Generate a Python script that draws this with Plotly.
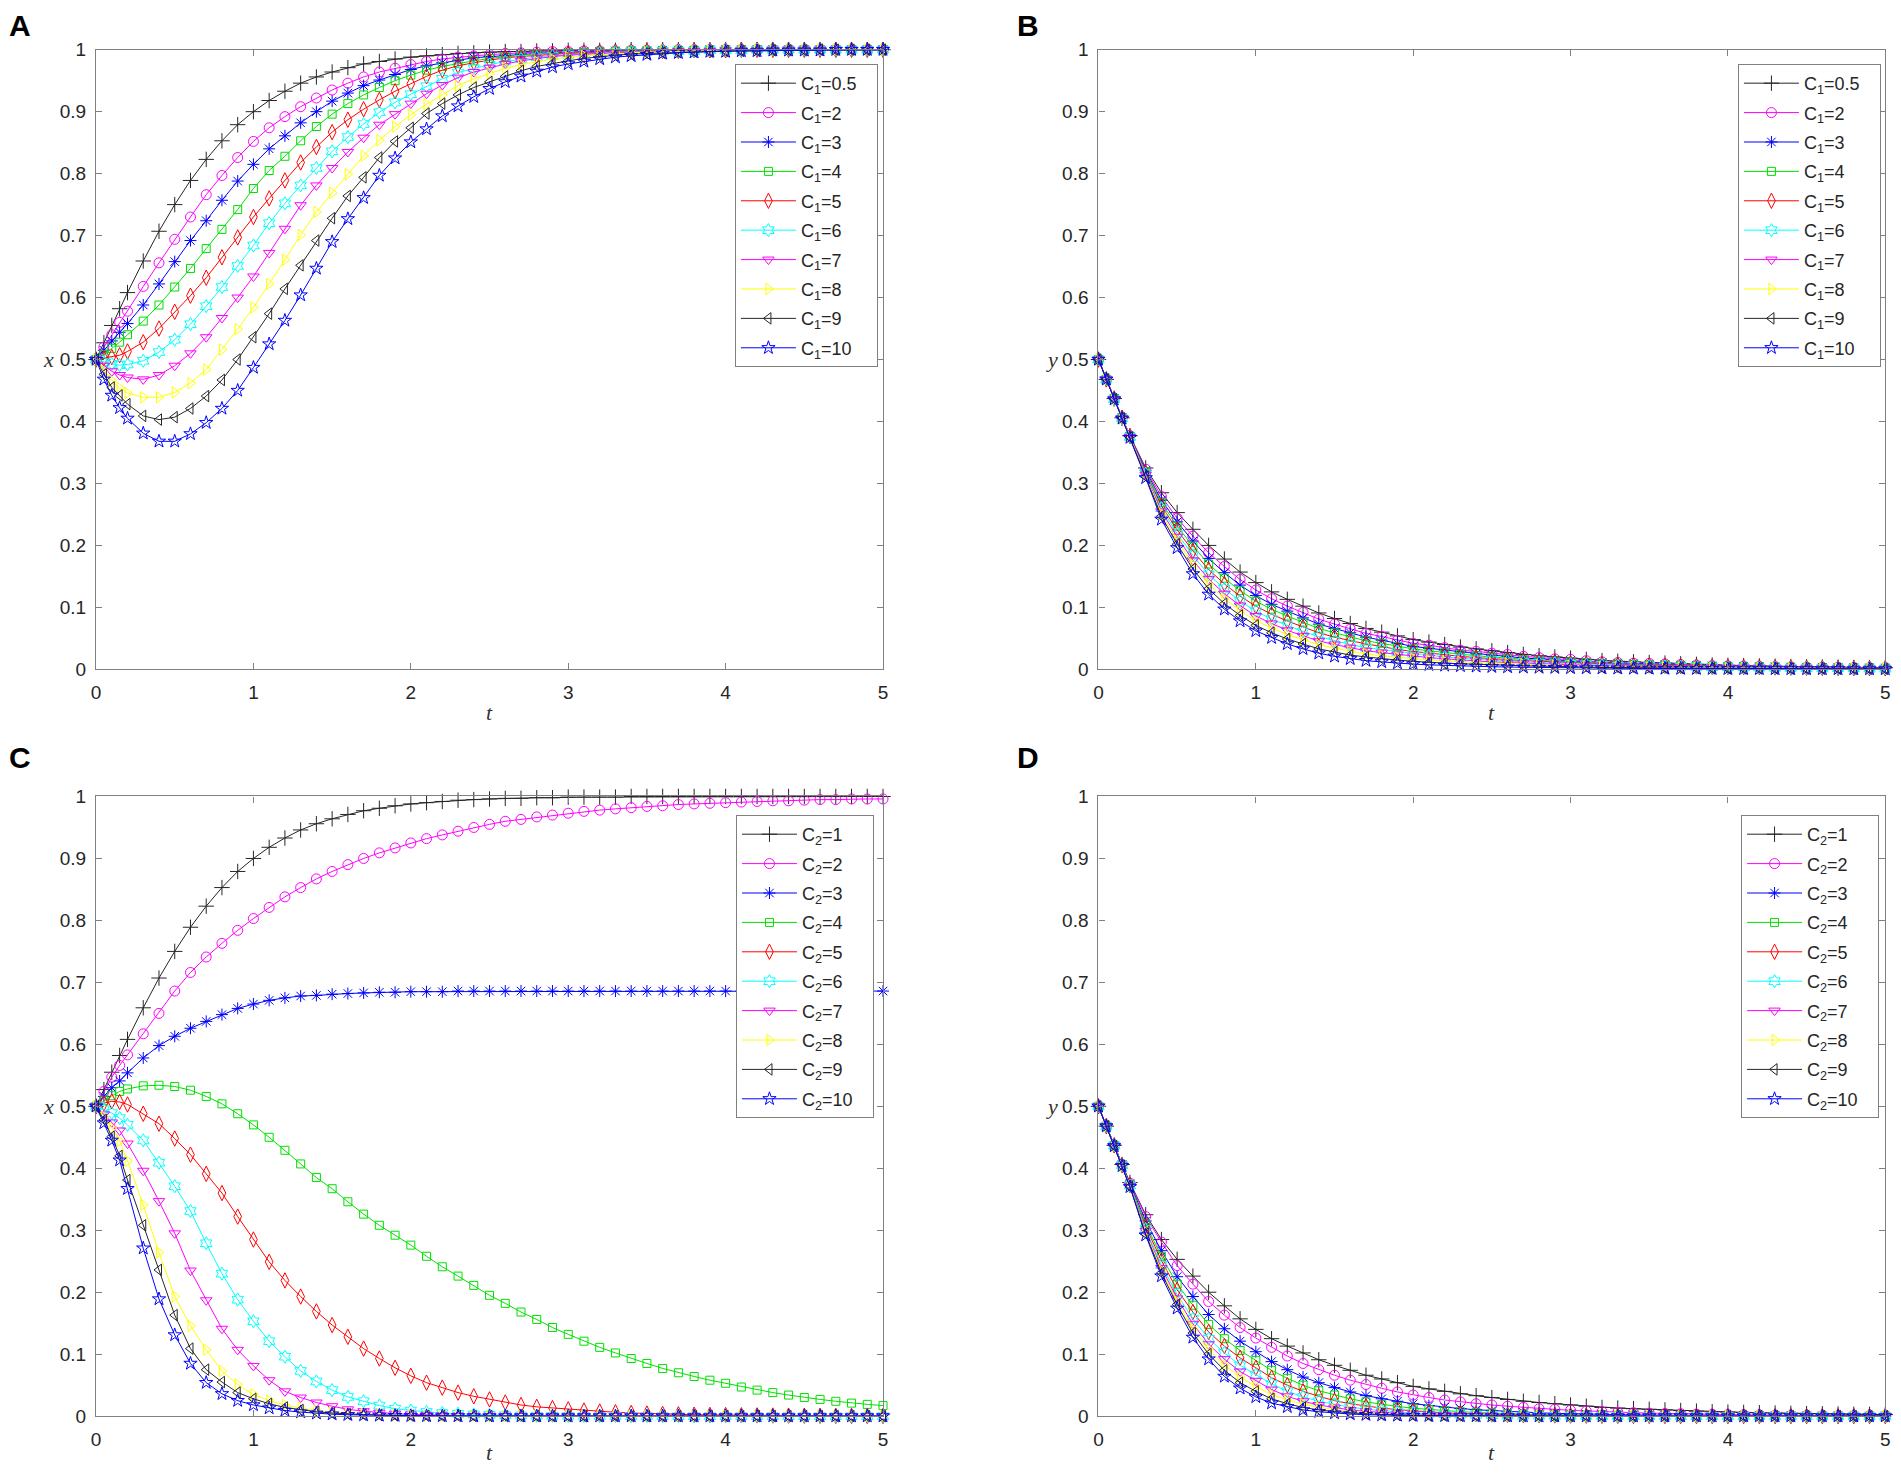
import plotly.graph_objects as go

# time grid shared by all curves (ode steps)
t = [0, 0.05, 0.1, 0.15, 0.2,
     0.3, 0.4, 0.5, 0.6, 0.7, 0.8, 0.9, 1.0,
     1.1, 1.2, 1.3, 1.4, 1.5, 1.6, 1.7, 1.8, 1.9, 2.0,
     2.1, 2.2, 2.3, 2.4, 2.5, 2.6, 2.7, 2.8, 2.9, 3.0,
     3.1, 3.2, 3.3, 3.4, 3.5, 3.6, 3.7, 3.8, 3.9, 4.0,
     4.1, 4.2, 4.3, 4.4, 4.5, 4.6, 4.7, 4.8, 4.9, 5.0]

c1_labels = ["0.5", "2", "3", "4", "5", "6", "7", "8", "9", "10"]
c2_labels = ["1", "2", "3", "4", "5", "6", "7", "8", "9", "10"]

x_ticks = [0, 1, 2, 3, 4, 5]
y_ticks = [0, 0.1, 0.2, 0.3, 0.4, 0.5, 0.6, 0.7, 0.8, 0.9, 1]
y_ticktext = ["0", "0.1", "0.2", "0.3", "0.4", "0.5", "0.6", "0.7", "0.8", "0.9", "1"]

# ---- panel A : x(t) for different C1 ----
xA_c05 = [0.5, 0.527, 0.555, 0.582, 0.608,
          0.659, 0.707, 0.750, 0.789, 0.823, 0.853, 0.879, 0.900,
          0.918, 0.933, 0.946, 0.956, 0.964, 0.971, 0.977, 0.981, 0.985, 0.988,
          0.990, 0.992, 0.994, 0.995, 0.996, 0.997, 0.997, 0.998, 0.998, 0.999,
          0.999, 0.999, 0.999, 1, 1, 1, 1, 1, 1, 1,
          1, 1, 1, 1, 1, 1, 1, 1, 1, 1]
xA_c2 = [0.5, 0.52, 0.54, 0.56, 0.578,
         0.618, 0.656, 0.694, 0.730, 0.766, 0.797, 0.826, 0.852,
         0.874, 0.892, 0.908, 0.922, 0.935, 0.946, 0.956, 0.964, 0.970, 0.976,
         0.981, 0.985, 0.988, 0.990, 0.992, 0.994, 0.995, 0.996, 0.997, 0.997,
         0.998, 0.998, 0.998, 0.999, 0.999, 0.999, 1, 1, 1, 1,
         1, 1, 1, 1, 1, 1, 1, 1, 1, 1]
xA_c3 = [0.5, 0.515, 0.53, 0.544, 0.558,
         0.588, 0.622, 0.658, 0.692, 0.724, 0.757, 0.788, 0.815,
         0.840, 0.861, 0.882, 0.900, 0.917, 0.930, 0.942, 0.951, 0.960, 0.968,
         0.974, 0.979, 0.983, 0.987, 0.989, 0.991, 0.993, 0.994, 0.995, 0.996,
         0.997, 0.997, 0.998, 0.998, 0.998, 0.999, 0.999, 0.999, 1, 1,
         1, 1, 1, 1, 1, 1, 1, 1, 1, 1]
xA_c4 = [0.5, 0.508, 0.518, 0.528, 0.54,
         0.562, 0.588, 0.617, 0.647, 0.679, 0.710, 0.742, 0.776,
         0.805, 0.828, 0.853, 0.876, 0.896, 0.913, 0.927, 0.939, 0.950, 0.959,
         0.967, 0.973, 0.978, 0.982, 0.986, 0.989, 0.991, 0.993, 0.994, 0.995,
         0.996, 0.997, 0.997, 0.998, 0.998, 0.998, 0.999, 0.999, 0.999, 1,
         1, 1, 1, 1, 1, 1, 1, 1, 1, 1]
xA_c5 = [0.5, 0.502, 0.504, 0.507, 0.513,
         0.528, 0.550, 0.577, 0.603, 0.632, 0.665, 0.697, 0.730,
         0.760, 0.789, 0.818, 0.843, 0.867, 0.887, 0.904, 0.919, 0.933, 0.945,
         0.957, 0.967, 0.974, 0.979, 0.983, 0.987, 0.989, 0.991, 0.993, 0.994,
         0.995, 0.996, 0.997, 0.997, 0.998, 0.998, 0.998, 0.999, 0.999, 0.999,
         1, 1, 1, 1, 1, 1, 1, 1, 1, 1]
xA_c6 = [0.5, 0.496, 0.493, 0.491, 0.492,
         0.498, 0.512, 0.532, 0.557, 0.586, 0.617, 0.651, 0.684,
         0.720, 0.752, 0.781, 0.809, 0.836, 0.859, 0.880, 0.899, 0.915, 0.928,
         0.941, 0.953, 0.963, 0.970, 0.976, 0.981, 0.985, 0.988, 0.990, 0.992,
         0.994, 0.995, 0.996, 0.997, 0.997, 0.998, 0.998, 0.998, 0.999, 0.999,
         0.999, 1, 1, 1, 1, 1, 1, 1, 1, 1]
xA_c7 = [0.5, 0.490, 0.481, 0.475, 0.471,
         0.468, 0.475, 0.490, 0.510, 0.536, 0.567, 0.600, 0.634,
         0.672, 0.711, 0.749, 0.781, 0.809, 0.835, 0.858, 0.879, 0.896, 0.913,
         0.929, 0.943, 0.955, 0.964, 0.971, 0.977, 0.982, 0.986, 0.989, 0.991,
         0.993, 0.994, 0.995, 0.996, 0.997, 0.997, 0.998, 0.998, 0.998, 0.999,
         0.999, 0.999, 1, 1, 1, 1, 1, 1, 1, 1]
xA_c8 = [0.5, 0.482, 0.466, 0.454, 0.446,
         0.439, 0.439, 0.447, 0.462, 0.484, 0.516, 0.549, 0.584,
         0.622, 0.661, 0.701, 0.738, 0.769, 0.799, 0.829, 0.854, 0.876, 0.895,
         0.912, 0.927, 0.942, 0.953, 0.962, 0.970, 0.976, 0.981, 0.985, 0.988,
         0.990, 0.992, 0.994, 0.995, 0.996, 0.997, 0.997, 0.998, 0.998, 0.998,
         0.999, 0.999, 0.999, 1, 1, 1, 1, 1, 1, 1]
xA_c9 = [0.5, 0.476, 0.455, 0.442, 0.428,
         0.409, 0.403, 0.407, 0.421, 0.441, 0.467, 0.500, 0.536,
         0.574, 0.614, 0.652, 0.692, 0.728, 0.764, 0.794, 0.826, 0.852, 0.874,
         0.897, 0.913, 0.927, 0.939, 0.948, 0.957, 0.966, 0.973, 0.978, 0.982,
         0.986, 0.989, 0.991, 0.993, 0.994, 0.995, 0.996, 0.997, 0.997, 0.998,
         0.998, 0.998, 0.999, 0.999, 0.999, 1, 1, 1, 1, 1]
xA_c10 = [0.5, 0.468, 0.442, 0.422, 0.405,
          0.381, 0.368, 0.368, 0.380, 0.398, 0.421, 0.450, 0.487,
          0.525, 0.563, 0.604, 0.647, 0.690, 0.727, 0.761, 0.797, 0.825, 0.851,
          0.872, 0.893, 0.909, 0.924, 0.937, 0.948, 0.957, 0.965, 0.972, 0.977,
          0.981, 0.985, 0.988, 0.990, 0.992, 0.994, 0.995, 0.996, 0.997, 0.997,
          0.998, 0.998, 0.999, 0.999, 0.999, 0.999, 1, 1, 1, 1]

# ---- panel B : y(t) for different C1 ----
yB_c05 = [0.5, 0.468, 0.437, 0.406, 0.377,
          0.325, 0.285, 0.253, 0.226, 0.200, 0.178, 0.157, 0.140,
          0.125, 0.113, 0.102, 0.091, 0.082, 0.074, 0.066, 0.060, 0.054, 0.048,
          0.044, 0.040, 0.036, 0.033, 0.030, 0.027, 0.024, 0.022, 0.020, 0.018,
          0.016, 0.014, 0.013, 0.012, 0.011, 0.010, 0.009, 0.008, 0.007, 0.0065,
          0.006, 0.0055, 0.005, 0.0045, 0.004, 0.0037, 0.0034, 0.003, 0.0028, 0.0025]
yB_c2 = [0.5, 0.468, 0.437, 0.406, 0.377,
         0.323, 0.279, 0.244, 0.215, 0.188, 0.166, 0.145, 0.128,
         0.114, 0.102, 0.092, 0.081, 0.073, 0.065, 0.058, 0.053, 0.047, 0.042,
         0.039, 0.035, 0.031, 0.029, 0.026, 0.024, 0.021, 0.019, 0.017, 0.016,
         0.014, 0.012, 0.011, 0.010, 0.0096, 0.0087, 0.0078, 0.007, 0.0061, 0.0057,
         0.0053, 0.0048, 0.0044, 0.004, 0.0036, 0.0033, 0.003, 0.0027, 0.0025, 0.0023]
yB_c3 = [0.5, 0.468, 0.437, 0.406, 0.376,
         0.321, 0.273, 0.238, 0.207, 0.179, 0.156, 0.136, 0.119,
         0.105, 0.094, 0.083, 0.073, 0.066, 0.059, 0.052, 0.047, 0.042, 0.037,
         0.034, 0.031, 0.028, 0.025, 0.023, 0.021, 0.018, 0.017, 0.015, 0.014,
         0.012, 0.011, 0.010, 0.009, 0.0084, 0.0077, 0.0069, 0.0062, 0.0054, 0.005,
         0.0047, 0.0043, 0.0039, 0.0036, 0.0032, 0.003, 0.0027, 0.0025, 0.0023, 0.0021]
yB_c4 = [0.5, 0.468, 0.437, 0.406, 0.376,
         0.319, 0.269, 0.231, 0.199, 0.170, 0.147, 0.127, 0.110,
         0.097, 0.086, 0.076, 0.066, 0.059, 0.052, 0.046, 0.042, 0.037, 0.033,
         0.030, 0.027, 0.024, 0.022, 0.020, 0.018, 0.016, 0.015, 0.013, 0.012,
         0.011, 0.009, 0.009, 0.008, 0.0074, 0.0067, 0.006, 0.0054, 0.0047, 0.0044,
         0.0041, 0.0038, 0.0035, 0.0031, 0.0028, 0.0026, 0.0024, 0.0022, 0.002, 0.0018]
yB_c5 = [0.5, 0.468, 0.437, 0.406, 0.376,
         0.317, 0.264, 0.225, 0.191, 0.161, 0.138, 0.118, 0.102,
         0.089, 0.078, 0.068, 0.059, 0.052, 0.046, 0.041, 0.037, 0.032, 0.029,
         0.026, 0.024, 0.021, 0.019, 0.017, 0.016, 0.014, 0.013, 0.012, 0.010,
         0.009, 0.008, 0.007, 0.007, 0.0063, 0.0057, 0.0052, 0.0046, 0.0041, 0.0038,
         0.0035, 0.0033, 0.003, 0.0027, 0.0025, 0.0023, 0.0021, 0.0019, 0.0018, 0.0016]
yB_c6 = [0.5, 0.468, 0.436, 0.405, 0.375,
         0.316, 0.260, 0.219, 0.184, 0.153, 0.130, 0.110, 0.094,
         0.081, 0.071, 0.061, 0.053, 0.046, 0.040, 0.035, 0.032, 0.028, 0.025,
         0.022, 0.020, 0.018, 0.016, 0.015, 0.013, 0.012, 0.011, 0.010, 0.009,
         0.008, 0.007, 0.006, 0.006, 0.0053, 0.0049, 0.0044, 0.0039, 0.0035, 0.0032,
         0.003, 0.0028, 0.0026, 0.0023, 0.0021, 0.002, 0.0019, 0.0017, 0.0016, 0.0014]
yB_c7 = [0.5, 0.468, 0.436, 0.405, 0.375,
         0.314, 0.255, 0.214, 0.176, 0.146, 0.122, 0.103, 0.086,
         0.074, 0.063, 0.054, 0.046, 0.040, 0.035, 0.030, 0.027, 0.024, 0.021,
         0.019, 0.017, 0.015, 0.014, 0.012, 0.011, 0.010, 0.009, 0.008, 0.007,
         0.006, 0.006, 0.005, 0.005, 0.0044, 0.004, 0.0036, 0.0032, 0.0029, 0.0026,
         0.0025, 0.0023, 0.0021, 0.0019, 0.0018, 0.0017, 0.0016, 0.0014, 0.0013, 0.0012]
yB_c8 = [0.5, 0.468, 0.436, 0.405, 0.375,
         0.312, 0.251, 0.208, 0.169, 0.138, 0.114, 0.095, 0.078,
         0.067, 0.056, 0.048, 0.040, 0.034, 0.029, 0.025, 0.022, 0.019, 0.017,
         0.015, 0.013, 0.012, 0.011, 0.010, 0.009, 0.008, 0.007, 0.006, 0.006,
         0.005, 0.004, 0.004, 0.004, 0.0034, 0.0031, 0.0028, 0.0025, 0.0023, 0.0021,
         0.002, 0.0018, 0.0017, 0.0016, 0.0014, 0.0013, 0.0013, 0.0012, 0.0011, 0.001]
yB_c9 = [0.5, 0.468, 0.436, 0.405, 0.374,
         0.311, 0.247, 0.202, 0.162, 0.130, 0.106, 0.087, 0.071,
         0.059, 0.049, 0.041, 0.033, 0.028, 0.023, 0.020, 0.017, 0.015, 0.013,
         0.011, 0.010, 0.009, 0.008, 0.007, 0.006, 0.006, 0.005, 0.005, 0.004,
         0.004, 0.003, 0.003, 0.003, 0.0025, 0.0023, 0.0021, 0.0019, 0.0017, 0.0015,
         0.0015, 0.0014, 0.0013, 0.0012, 0.0011, 0.001, 0.001, 0.0009, 0.0009, 0.0008]
yB_c10 = [0.5, 0.468, 0.436, 0.405, 0.374,
          0.309, 0.242, 0.196, 0.154, 0.121, 0.097, 0.078, 0.062,
          0.051, 0.041, 0.033, 0.026, 0.021, 0.017, 0.014, 0.012, 0.010, 0.0085,
          0.0073, 0.0063, 0.0055, 0.0048, 0.0042, 0.0037, 0.0033, 0.0029, 0.0026, 0.0023,
          0.0021, 0.0019, 0.0017, 0.0015, 0.0014, 0.0013, 0.0012, 0.0011, 0.001, 0.0009,
          0.0008, 0.0008, 0.0007, 0.0007, 0.0006, 0.0006, 0.0006, 0.0005, 0.0005, 0.0005]

# ---- panel C : x(t) for different C2 ----
xC_c1 = [0.5, 0.527, 0.555, 0.582, 0.608,
         0.659, 0.707, 0.750, 0.789, 0.823, 0.853, 0.879, 0.900,
         0.918, 0.933, 0.946, 0.956, 0.964, 0.971, 0.977, 0.981, 0.985, 0.988,
         0.990, 0.992, 0.994, 0.995, 0.996, 0.997, 0.997, 0.998, 0.998, 0.999,
         0.999, 0.999, 0.999, 1, 1, 1, 1, 1, 1, 1,
         1, 1, 1, 1, 1, 1, 1, 1, 1, 1]
xC_c2 = [0.5, 0.524, 0.547, 0.566, 0.583,
         0.617, 0.650, 0.686, 0.716, 0.741, 0.763, 0.784, 0.803,
         0.821, 0.838, 0.853, 0.867, 0.879, 0.890, 0.900, 0.909, 0.917, 0.925,
         0.932, 0.938, 0.944, 0.950, 0.955, 0.960, 0.963, 0.967, 0.970, 0.973,
         0.976, 0.978, 0.980, 0.982, 0.984, 0.985, 0.987, 0.988, 0.989, 0.990,
         0.991, 0.992, 0.993, 0.993, 0.994, 0.995, 0.995, 0.996, 0.996, 0.996]
xC_c3 = [0.5, 0.516, 0.530, 0.541, 0.554,
         0.578, 0.598, 0.613, 0.626, 0.637, 0.648, 0.658, 0.665,
         0.671, 0.675, 0.678, 0.679, 0.681, 0.682, 0.683, 0.684, 0.684, 0.685,
         0.685, 0.685, 0.686, 0.686, 0.686, 0.686, 0.686, 0.686, 0.686, 0.686,
         0.686, 0.686, 0.686, 0.686, 0.686, 0.686, 0.686, 0.686, 0.686, 0.686,
         0.686, 0.686, 0.686, 0.686, 0.686, 0.686, 0.686, 0.686, 0.686, 0.686]
xC_c4 = [0.5, 0.509, 0.517, 0.524, 0.528,
         0.533, 0.534, 0.532, 0.526, 0.516, 0.504, 0.488, 0.470,
         0.450, 0.429, 0.407, 0.385, 0.367, 0.346, 0.326, 0.308, 0.292, 0.276,
         0.258, 0.241, 0.226, 0.211, 0.195, 0.182, 0.168, 0.156, 0.143, 0.132,
         0.121, 0.111, 0.102, 0.093, 0.085, 0.077, 0.070, 0.064, 0.058, 0.053,
         0.047, 0.042, 0.038, 0.034, 0.030, 0.027, 0.024, 0.021, 0.019, 0.017]
xC_c5 = [0.5, 0.505, 0.508, 0.507, 0.503,
         0.488, 0.472, 0.448, 0.422, 0.391, 0.360, 0.322, 0.285,
         0.249, 0.219, 0.193, 0.169, 0.147, 0.128, 0.109, 0.093, 0.078, 0.065,
         0.054, 0.046, 0.038, 0.032, 0.027, 0.022, 0.018, 0.015, 0.013, 0.011,
         0.009, 0.0075, 0.0062, 0.0051, 0.0042, 0.0035, 0.0029, 0.0024, 0.002, 0.0017,
         0.0014, 0.0012, 0.001, 0.0008, 0.0007, 0.0006, 0.0005, 0.0004, 0.0003, 0.0003]
xC_c6 = [0.5, 0.495, 0.489, 0.481, 0.470,
         0.445, 0.409, 0.371, 0.331, 0.279, 0.230, 0.188, 0.153,
         0.121, 0.096, 0.073, 0.056, 0.042, 0.031, 0.024, 0.017, 0.012, 0.009,
         0.0068, 0.005, 0.0037, 0.0027, 0.002, 0.0015, 0.0011, 0.0008, 0.0006, 0.0004,
         0.0003, 0.0002, 0.0002, 0.0001, 0.0001, 0.0001, 0, 0, 0, 0,
         0, 0, 0, 0, 0, 0, 0, 0, 0, 0]
xC_c7 = [0.5, 0.487, 0.474, 0.461, 0.440,
         0.396, 0.347, 0.295, 0.235, 0.187, 0.141, 0.107, 0.081,
         0.058, 0.040, 0.030, 0.022, 0.016, 0.011, 0.008, 0.0055, 0.004, 0.0028,
         0.002, 0.0014, 0.001, 0.0007, 0.0005, 0.0004, 0.0003, 0.0002, 0.0001, 0.0001,
         0, 0, 0, 0, 0, 0, 0, 0, 0, 0,
         0, 0, 0, 0, 0, 0, 0, 0, 0, 0]
xC_c8 = [0.5, 0.483, 0.465, 0.444, 0.412,
         0.341, 0.264, 0.193, 0.146, 0.107, 0.073, 0.051, 0.035,
         0.025, 0.018, 0.013, 0.009, 0.0065, 0.0046, 0.0033, 0.0023, 0.0016, 0.0011,
         0.0008, 0.0006, 0.0004, 0.0003, 0.0002, 0.0001, 0.0001, 0, 0, 0,
         0, 0, 0, 0, 0, 0, 0, 0, 0, 0,
         0, 0, 0, 0, 0, 0, 0, 0, 0, 0]
xC_c9 = [0.5, 0.478, 0.451, 0.420, 0.381,
         0.308, 0.236, 0.163, 0.109, 0.075, 0.055, 0.038, 0.028,
         0.020, 0.014, 0.010, 0.007, 0.005, 0.0035, 0.0025, 0.0018, 0.0013, 0.0009,
         0.0006, 0.0004, 0.0003, 0.0002, 0.0001, 0.0001, 0, 0, 0, 0,
         0, 0, 0, 0, 0, 0, 0, 0, 0, 0,
         0, 0, 0, 0, 0, 0, 0, 0, 0, 0]
xC_c10 = [0.5, 0.473, 0.445, 0.413, 0.367,
          0.271, 0.189, 0.131, 0.085, 0.054, 0.036, 0.025, 0.018,
          0.013, 0.009, 0.0065, 0.0045, 0.0032, 0.0022, 0.0016, 0.0011, 0.0008, 0.0005,
          0.0004, 0.0003, 0.0002, 0.0001, 0.0001, 0, 0, 0, 0, 0,
          0, 0, 0, 0, 0, 0, 0, 0, 0, 0,
          0, 0, 0, 0, 0, 0, 0, 0, 0, 0]

# ---- panel D : y(t) for different C2 ----
yD_c1 = [0.5, 0.468, 0.437, 0.406, 0.377,
         0.325, 0.285, 0.253, 0.226, 0.200, 0.178, 0.157, 0.140,
         0.125, 0.113, 0.102, 0.091, 0.082, 0.074, 0.066, 0.060, 0.054, 0.048,
         0.044, 0.040, 0.036, 0.033, 0.030, 0.027, 0.024, 0.022, 0.020, 0.018,
         0.016, 0.014, 0.013, 0.012, 0.011, 0.010, 0.009, 0.008, 0.007, 0.0065,
         0.006, 0.0055, 0.005, 0.0045, 0.004, 0.0037, 0.0034, 0.003, 0.0028, 0.0025]
yD_c2 = [0.5, 0.468, 0.437, 0.406, 0.376,
         0.322, 0.281, 0.243, 0.213, 0.185, 0.163, 0.143, 0.126,
         0.111, 0.097, 0.085, 0.075, 0.066, 0.058, 0.051, 0.045, 0.039, 0.034,
         0.030, 0.026, 0.023, 0.020, 0.018, 0.016, 0.014, 0.012, 0.011, 0.0094,
         0.0082, 0.0072, 0.0063, 0.0056, 0.0049, 0.0043, 0.0038, 0.0033, 0.0029, 0.0025,
         0.0022, 0.0019, 0.0017, 0.0015, 0.0013, 0.0012, 0.001, 0.0009, 0.0008, 0.0007]
yD_c3 = [0.5, 0.468, 0.437, 0.406, 0.375,
         0.315, 0.267, 0.225, 0.193, 0.164, 0.141, 0.121, 0.104,
         0.088, 0.075, 0.063, 0.054, 0.046, 0.039, 0.033, 0.028, 0.024, 0.020,
         0.017, 0.0144, 0.0122, 0.0103, 0.0088, 0.0074, 0.0063, 0.0054, 0.0045, 0.0038,
         0.0033, 0.0028, 0.0024, 0.002, 0.0017, 0.0014, 0.0012, 0.001, 0.0009, 0.0008,
         0.0007, 0.0006, 0.0005, 0.0004, 0.0004, 0.0003, 0.0003, 0.0002, 0.0002, 0.0002]
yD_c4 = [0.5, 0.468, 0.437, 0.405, 0.374,
         0.310, 0.258, 0.213, 0.179, 0.148, 0.125, 0.106, 0.090,
         0.074, 0.061, 0.050, 0.041, 0.034, 0.028, 0.023, 0.019, 0.0156, 0.0128,
         0.0106, 0.0087, 0.0072, 0.0059, 0.0048, 0.004, 0.0033, 0.0027, 0.0022, 0.0018,
         0.0015, 0.0012, 0.001, 0.0008, 0.0007, 0.0006, 0.0005, 0.0004, 0.0003, 0.0003,
         0.0002, 0.0002, 0.0002, 0.0001, 0.0001, 0.0001, 0.0001, 0.0001, 0.0001, 0.0001]
yD_c5 = [0.5, 0.468, 0.437, 0.405, 0.373,
         0.306, 0.251, 0.204, 0.168, 0.136, 0.113, 0.094, 0.078,
         0.062, 0.050, 0.040, 0.032, 0.025, 0.020, 0.016, 0.013, 0.0104, 0.0083,
         0.0066, 0.0053, 0.0042, 0.0034, 0.0027, 0.0022, 0.0017, 0.0014, 0.0011, 0.0009,
         0.0007, 0.0006, 0.0005, 0.0004, 0.0003, 0.0002, 0.0002, 0.0002, 0.0001, 0.0001,
         0.0001, 0.0001, 0, 0, 0, 0, 0, 0, 0, 0]
yD_c6 = [0.5, 0.468, 0.437, 0.405, 0.372,
         0.302, 0.244, 0.196, 0.157, 0.125, 0.102, 0.082, 0.067,
         0.052, 0.040, 0.031, 0.024, 0.019, 0.0145, 0.0112, 0.0087, 0.0068, 0.0052,
         0.0041, 0.0031, 0.0024, 0.0019, 0.0015, 0.0011, 0.0009, 0.0007, 0.0005, 0.0004,
         0.0003, 0.0002, 0.0002, 0.0001, 0.0001, 0.0001, 0, 0, 0, 0,
         0, 0, 0, 0, 0, 0, 0, 0, 0, 0]
yD_c7 = [0.5, 0.468, 0.436, 0.404, 0.371,
         0.299, 0.239, 0.190, 0.149, 0.116, 0.092, 0.072, 0.057,
         0.043, 0.032, 0.024, 0.018, 0.014, 0.010, 0.0078, 0.0058, 0.0044, 0.0033,
         0.0025, 0.0019, 0.0014, 0.0011, 0.0008, 0.0006, 0.0005, 0.0003, 0.0003, 0.0002,
         0.0001, 0.0001, 0.0001, 0, 0, 0, 0, 0, 0, 0,
         0, 0, 0, 0, 0, 0, 0, 0, 0, 0]
yD_c8 = [0.5, 0.468, 0.436, 0.404, 0.371,
         0.297, 0.235, 0.185, 0.141, 0.108, 0.082, 0.063, 0.048,
         0.035, 0.026, 0.019, 0.014, 0.010, 0.0075, 0.0055, 0.004, 0.0029, 0.0021,
         0.0016, 0.0012, 0.0009, 0.0006, 0.0005, 0.0003, 0.0002, 0.0002, 0.0001, 0.0001,
         0, 0, 0, 0, 0, 0, 0, 0, 0, 0,
         0, 0, 0, 0, 0, 0, 0, 0, 0, 0]
yD_c9 = [0.5, 0.468, 0.436, 0.404, 0.370,
         0.294, 0.231, 0.180, 0.134, 0.100, 0.074, 0.054, 0.040,
         0.028, 0.020, 0.014, 0.010, 0.0073, 0.0052, 0.0037, 0.0026, 0.0019, 0.0013,
         0.0009, 0.0007, 0.0005, 0.0003, 0.0002, 0.0002, 0.0001, 0.0001, 0, 0,
         0, 0, 0, 0, 0, 0, 0, 0, 0, 0,
         0, 0, 0, 0, 0, 0, 0, 0, 0, 0]
yD_c10 = [0.5, 0.468, 0.436, 0.404, 0.370,
          0.292, 0.226, 0.174, 0.127, 0.092, 0.064, 0.045, 0.031,
          0.021, 0.015, 0.010, 0.0071, 0.0049, 0.0034, 0.0023, 0.0016, 0.0011, 0.0008,
          0.0005, 0.0004, 0.0003, 0.0002, 0.0001, 0.0001, 0, 0, 0, 0,
          0, 0, 0, 0, 0, 0, 0, 0, 0, 0,
          0, 0, 0, 0, 0, 0, 0, 0, 0, 0]

panel_A = [xA_c05, xA_c2, xA_c3, xA_c4, xA_c5, xA_c6, xA_c7, xA_c8, xA_c9, xA_c10]
panel_B = [yB_c05, yB_c2, yB_c3, yB_c4, yB_c5, yB_c6, yB_c7, yB_c8, yB_c9, yB_c10]
panel_C = [xC_c1, xC_c2, xC_c3, xC_c4, xC_c5, xC_c6, xC_c7, xC_c8, xC_c9, xC_c10]
panel_D = [yD_c1, yD_c2, yD_c3, yD_c4, yD_c5, yD_c6, yD_c7, yD_c8, yD_c9, yD_c10]

# matlab-like line specs: k+ mo b* gs rd ch mv y> k< bp
colors = ["#262626", "#ff00ff", "#0000ff", "#00e000", "#ff0000",
          "#00ffff", "#ff00ff", "#ffff00", "#262626", "#0000ff"]
symbols = ["cross-thin-open", "circle-open", "asterisk-open", "square-open",
           "diamond-tall-open", "hexagram-open", "triangle-down-open",
           "triangle-right-open", "triangle-left-open", "star-open"]
sizes = [11, 10, 10, 8, 11, 10, 10, 10, 10, 10]

FONT = "Liberation Sans, Arial, Helvetica, sans-serif"
GRAY = "#808080"

panels = [
    ("x", "y", "legend", panel_A, "1", c1_labels),
    ("x2", "y2", "legend2", panel_B, "1", c1_labels),
    ("x3", "y3", "legend3", panel_C, "2", c2_labels),
    ("x4", "y4", "legend4", panel_D, "2", c2_labels),
]

fig = go.Figure()
for xa, ya, lg, series, sub, labels in panels:
    for i, vals in enumerate(series):
        fig.add_trace(go.Scatter(
            x=t, y=vals, xaxis=xa, yaxis=ya, legend=lg,
            mode="lines+markers", cliponaxis=False,
            name="C<sub>%s</sub>=%s&nbsp;&nbsp;&nbsp;" % (sub, labels[i]),
            legendgroup="%s_%d" % (lg, i),
            line=dict(color=colors[i], width=1),
            marker=dict(symbol=symbols[i], size=sizes[i], color=colors[i],
                        line=dict(color=colors[i], width=1)),
        ))

# the page body has an 8px margin, so the figure is 16px smaller than the window
left_dom = [0.0467, 0.4642]
right_dom = [0.5785, 0.9959]
top_dom = [0.5464, 0.9714]
bot_dom = [0.0342, 0.4592]

axis_style = dict(showline=True, linecolor=GRAY, linewidth=1.3, mirror="ticks",
                  ticks="inside", ticklen=6, tickcolor=GRAY, showgrid=False,
                  zeroline=False, automargin=False,
                  tickfont=dict(family=FONT, size=19, color="#262626"))


def xaxis(dom, anchor):
    return dict(domain=dom, anchor=anchor, range=[0, 5], tickvals=x_ticks,
                ticklabelstandoff=6, **axis_style)


def yaxis(dom, anchor):
    return dict(domain=dom, anchor=anchor, range=[0, 1], tickvals=y_ticks,
                ticktext=y_ticktext, ticklabelstandoff=5, **axis_style)


def legend(xr, ytop):
    return dict(x=xr, y=ytop, xanchor="right", yanchor="top", bgcolor="white",
                bordercolor=GRAY, borderwidth=1, traceorder="grouped",
                tracegroupgap=3, itemwidth=55,
                font=dict(family=FONT, size=18, color="#262626"))


ann = []
for txt, x, y, ya in [("A", 0.0064, 1.0, "top"), ("B", 0.5411, 1.0, "top"),
                      ("C", 0.0064, 0.4856, "middle"), ("D", 0.5411, 0.4856, "middle")]:
    ann.append(dict(text="<b>%s</b>" % txt, x=x, y=y, xref="paper", yref="paper",
                    showarrow=False, xanchor="center", yanchor=ya, borderpad=0,
                    font=dict(family=FONT, size=30, color="black")))
for txt, x, y, ya in [("x", 0.0215, 0.7589, "middle"), ("y", 0.5538, 0.7589, "middle"),
                      ("x", 0.0215, 0.2467, "middle"), ("y", 0.5538, 0.2467, "middle"),
                      ("t", 0.2553, 0.5165, "middle"), ("t", 0.7872, 0.5165, "middle"),
                      ("t", 0.2553, 0.0, "bottom"), ("t", 0.7872, 0.0, "bottom")]:
    ann.append(dict(text="<i>%s</i>" % txt, x=x, y=y, xref="paper", yref="paper",
                    showarrow=False, xanchor="center", yanchor=ya, borderpad=0,
                    font=dict(family="Liberation Serif, DejaVu Serif, serif",
                              size=22, color="#333333")))

fig.update_layout(
    width=1885, height=1458,
    margin=dict(l=0, r=0, t=0, b=0),
    paper_bgcolor="white", plot_bgcolor="white",
    xaxis=xaxis(left_dom, "y"), yaxis=yaxis(top_dom, "x"),
    xaxis2=xaxis(right_dom, "y2"), yaxis2=yaxis(top_dom, "x2"),
    xaxis3=xaxis(left_dom, "y3"), yaxis3=yaxis(bot_dom, "x3"),
    xaxis4=xaxis(right_dom, "y4"), yaxis4=yaxis(bot_dom, "x4"),
    legend=legend(0.4615, 0.9616),
    legend2=legend(0.9936, 0.9616),
    legend3=legend(0.4594, 0.4465),
    legend4=legend(0.9926, 0.4465),
    annotations=ann,
)

fig.write_html("out.html")
